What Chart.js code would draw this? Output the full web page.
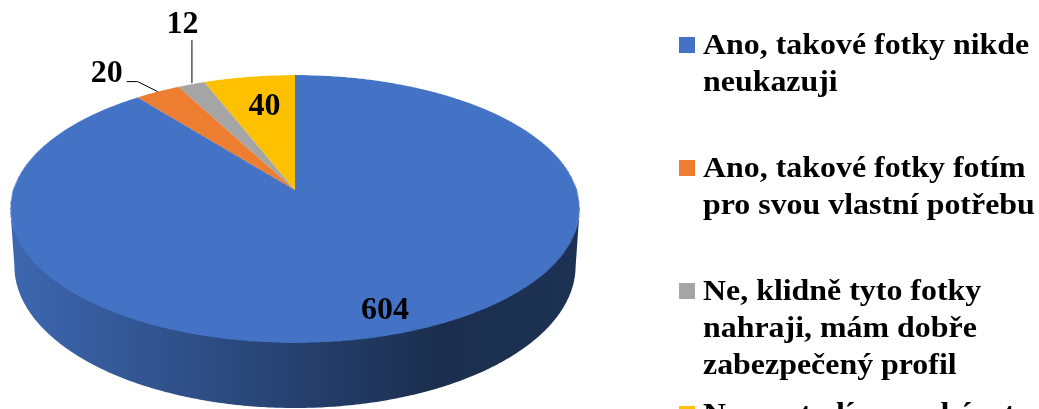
<!DOCTYPE html>
<html>
<head>
<meta charset="utf-8">
<script src="https://cdn.jsdelivr.net/npm/chart.js@4.4.0/dist/chart.umd.min.js"></script>
<style>
  html, body { margin: 0; padding: 0; background: #fff; }
  canvas { display: block; }
</style>
</head>
<body>
<canvas id="pieChart" width="1039" height="409"></canvas>
<script>
// answers (legend text, split into lines like in the original)
const answers = [
    ['Ano, takové fotky nikde', 'neukazuji'],
    ['Ano, takové fotky fotím', 'pro svou vlastní potřebu'],
    ['Ne, klidně tyto fotky', 'nahraji, mám dobře', 'zabezpečený profil'],
    ['Ne, nestydím se ukázat', 'své fotky']
];
const counts = [604, 20, 12, 40];
const sliceColors = ['#4472C4', '#ED7D31', '#A5A5A5', '#FFC000'];

// where the value label goes for each slice
const labelModes = ['inside', 'left', 'up', 'inside'];

const LABEL_FONT = 'bold 32px "Liberation Serif", "Times New Roman", serif';
const LEGEND_FONT = 'bold 29px "Liberation Serif", "Times New Roman", serif';

// perspective of the tilted pie: centre, half axes, tilt, thickness
const VIEW = { cx: 295, cy: 190, ax: 282, ay: 131.3, g: 0.1418, depth: 55.8 };

// point on the pie disc (X right, Z towards viewer, unit radius) -> screen
function project(X, Z, drop) {
    const w = 1 - VIEW.g * Z;
    const sx = drop ? 0.985 : 1;
    return {
        x: VIEW.cx + sx * VIEW.ax * X / w,
        y: VIEW.cy + (VIEW.ay * Z + (drop ? VIEW.depth : 0)) / w
    };
}

function shade(hex, k) {
    const n = parseInt(hex.slice(1), 16);
    return 'rgb(' + Math.round(((n >> 16) & 255) * k) + ',' +
        Math.round(((n >> 8) & 255) * k) + ',' + Math.round((n & 255) * k) + ')';
}

// Chart.js draws a flat pie, this plugin tilts it and adds the side
const pie3d = {
    id: 'pie3d',
    afterDatasetsDraw(chart) {
        const ctx = chart.ctx;
        const arcs = chart.getDatasetMeta(0).data;
        const sx0 = arcs[0].x, sy0 = arcs[0].y, R = arcs[0].outerRadius;
        const W = 660, H = chart.height;

        const src = ctx.getImageData(0, 0, W, H);
        ctx.clearRect(0, 0, W, H);

        // silhouette angles (left/right-most points of the rim)
        let tR = 0, tL = Math.PI, maxX = -1e9, minX = 1e9;
        for (let t = -0.5; t <= Math.PI + 0.5; t += 0.002) {
            const p = project(Math.cos(t), Math.sin(t));
            if (p.x > maxX) { maxX = p.x; tR = t; }
            if (p.x < minX) { minX = p.x; tL = t; }
        }

        // side wall, only the front part is visible (top edge tucked under the face)
        arcs.forEach((arc, i) => {
            [0, 2 * Math.PI].forEach(base => {
                const a0 = Math.max(arc.startAngle, base + tR);
                const a1 = Math.min(arc.endAngle, base + tL);
                if (a1 <= a0) return;
                const grad = ctx.createLinearGradient(minX, 0, maxX, 0);
                grad.addColorStop(0, shade(sliceColors[i], 0.9));
                grad.addColorStop(0.75, shade(sliceColors[i], 0.4));
                grad.addColorStop(1, shade(sliceColors[i], 0.43));
                ctx.beginPath();
                for (let t = a0; t <= a1; t += 0.01) {
                    const p = project(Math.cos(t), Math.sin(t));
                    ctx.lineTo(p.x, p.y - 3);
                }
                for (let t = a1; t >= a0; t -= 0.01) {
                    const p = project(Math.cos(t), Math.sin(t), true);
                    ctx.lineTo(p.x, p.y);
                }
                ctx.closePath();
                ctx.fillStyle = grad;
                ctx.fill();
            });
        });

        // top face: resample the flat pie through the perspective
        const dst = ctx.getImageData(0, 0, W, H);
        const s = src.data, d = dst.data;
        const y0 = Math.floor(VIEW.cy - VIEW.ay / (1 + VIEW.g)) - 2;
        const y1 = Math.min(H - 1, Math.ceil(VIEW.cy + VIEW.ay / (1 - VIEW.g)) + 2);
        const x0 = Math.max(0, Math.floor(minX) - 2), x1 = Math.min(W - 1, Math.ceil(maxX) + 2);
        const SS = 3;
        for (let py = y0; py <= y1; py++) {
            for (let px = x0; px <= x1; px++) {
                let r = 0, g = 0, b = 0, a = 0;
                for (let j = 0; j < SS; j++) {
                    const dy = py + (j + 0.5) / SS - VIEW.cy;
                    const Z = dy / (VIEW.ay + VIEW.g * dy);
                    const w = 1 - VIEW.g * Z;
                    for (let k = 0; k < SS; k++) {
                        const X = (px + (k + 0.5) / SS - VIEW.cx) * w / VIEW.ax;
                        if (X * X + Z * Z > 1) continue;
                        const qx = Math.floor(sx0 + X * R), qy = Math.floor(sy0 + Z * R);
                        if (qx < 0 || qy < 0 || qx >= W || qy >= H) continue;
                        const q = (qy * W + qx) * 4;
                        const al = s[q + 3] / 255;
                        r += s[q] * al; g += s[q + 1] * al; b += s[q + 2] * al; a += al;
                    }
                }
                if (a === 0) continue;
                const n = SS * SS;
                r /= n; g /= n; b /= n; a /= n;
                const o = (py * W + px) * 4;
                const da = d[o + 3] / 255;
                const oa = a + da * (1 - a);
                d[o] = (r + d[o] * da * (1 - a)) / oa;
                d[o + 1] = (g + d[o + 1] * da * (1 - a)) / oa;
                d[o + 2] = (b + d[o + 2] * da * (1 - a)) / oa;
                d[o + 3] = oa * 255;
            }
        }
        ctx.putImageData(dst, 0, 0);

        // value labels
        ctx.save();
        ctx.font = LABEL_FONT;
        ctx.fillStyle = '#000';
        ctx.strokeStyle = '#000';
        ctx.lineWidth = 1;
        arcs.forEach((arc, i) => {
            const mid = (arc.startAngle + arc.endAngle) / 2;
            const txt = String(counts[i]);
            if (labelModes[i] === 'inside') {
                const p = project(0.8 * Math.cos(mid), 0.8 * Math.sin(mid));
                ctx.textAlign = 'center';
                ctx.textBaseline = 'middle';
                ctx.fillText(txt, p.x + 7, p.y + 10);
            } else if (labelModes[i] === 'left') {
                const p0 = project(Math.cos(mid), Math.sin(mid));
                const p1 = { x: p0.x - 20, y: p0.y - 10 };
                ctx.beginPath();
                ctx.moveTo(p0.x, p0.y);
                ctx.lineTo(p1.x, p1.y);
                ctx.lineTo(p1.x - 11, p1.y);
                ctx.stroke();
                ctx.textAlign = 'right';
                ctx.textBaseline = 'alphabetic';
                ctx.fillText(txt, p1.x - 15, p1.y);
            } else {
                const p0 = project(Math.cos(mid), Math.sin(mid));
                ctx.beginPath();
                ctx.moveTo(p0.x + 0.5, p0.y - 1);
                ctx.lineTo(p0.x + 0.5, p0.y - 44);
                ctx.stroke();
                ctx.textAlign = 'center';
                ctx.textBaseline = 'alphabetic';
                ctx.fillText(txt, p0.x - 9, p0.y - 51);
            }
        });
        ctx.restore();
    }
};

// legend on the right, one entry every 123px, wrapped lines
const sideLegend = {
    id: 'sideLegend',
    afterDraw(chart) {
        const ctx = chart.ctx;
        ctx.save();
        ctx.font = LEGEND_FONT;
        ctx.textAlign = 'left';
        ctx.textBaseline = 'alphabetic';
        answers.forEach((lines, i) => {
            const base = 54 + i * 123;
            ctx.fillStyle = sliceColors[i];
            ctx.fillRect(679, base - 17, 16, 16);
            ctx.fillStyle = '#000';
            ctx.save();
            ctx.scale(1.1, 1);
            lines.forEach((line, j) => ctx.fillText(line, 703 / 1.1, base + j * 37));
            ctx.restore();
        });
        ctx.restore();
    }
};

const ctx = document.getElementById('pieChart').getContext('2d');
const pieChart = new Chart(ctx, {
    type: 'pie',
    data: {
        labels: answers.map(a => a.join(' ')),
        datasets: [{
            data: counts,
            backgroundColor: sliceColors,
            borderWidth: 0,
            hoverOffset: 0,
            offset: 0,
            clip: false
        }]
    },
    options: {
        responsive: false,
        animation: false,
        events: [],
        layout: {
            padding: { left: 57, right: 582, top: 4, bottom: 5 }
        },
        plugins: {
            legend: { display: false },
            tooltip: { enabled: false }
        }
    },
    plugins: [pie3d, sideLegend]
});
</script>
</body>
</html>
